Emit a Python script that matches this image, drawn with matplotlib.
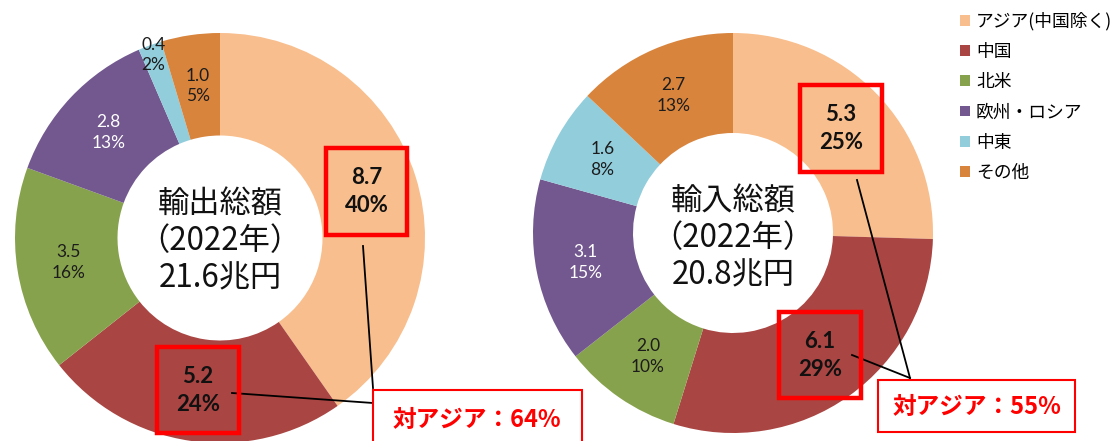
import matplotlib

matplotlib.use("Agg")

import matplotlib.pyplot as plt
import numpy as np
from matplotlib.patches import Patch, Rectangle

plt.rcParams["font.family"] = ["Noto Sans CJK JP", "DejaVu Sans"]

regions = ["アジア(中国除く)", "中国", "北米", "欧州・ロシア", "中東", "その他"]
colors = ["#F8BE8D", "#A94542", "#87A24C", "#72588F", "#92CDDC", "#D8843D"]

export_values = [8.7, 5.2, 3.5, 2.8, 0.4, 1.0]
export_pct = [40, 24, 16, 13, 2, 5]
export_total = "輸出総額\n（2022年）\n21.6兆円"
export_asia = "対アジア：64%"

import_values = [5.3, 6.1, 2.0, 3.1, 1.6, 2.7]
import_pct = [25, 29, 10, 15, 8, 13]
import_total = "輸入総額\n（2022年）\n20.8兆円"
import_asia = "対アジア：55%"

NUM_FONT = ["Lato", "DejaVu Sans"]
WHITE_TEXT = {3}
HIGHLIGHT = {0, 1}


def draw_donut(ax, values, pct, center, radius, label_r):
    wedges, _ = ax.pie(values, colors=colors, startangle=90, counterclock=False,
                       center=center, radius=radius,
                       wedgeprops=dict(width=radius * 0.5, linewidth=0))
    for i, w in enumerate(wedges):
        ang = np.deg2rad((w.theta1 + w.theta2) / 2)
        r = radius * label_r[i]
        x = center[0] + r * np.cos(ang)
        y = center[1] + r * np.sin(ang)
        txt = f"{values[i]:.1f}\n{pct[i]}%"
        if i in HIGHLIGHT:
            ax.text(x, y, txt, ha="center", va="center", fontsize=16, fontweight="bold",
                    family=NUM_FONT, color="#111111", linespacing=1.4, zorder=5,
                    bbox=dict(boxstyle="square,pad=0.85", fc="none", ec="#FF0000", lw=3.2))
        else:
            col = "white" if i in WHITE_TEXT else "#1c1c1c"
            ax.text(x, y, txt, ha="center", va="center", fontsize=12.5,
                    family=NUM_FONT, color=col, linespacing=1.35, zorder=5)


fig = plt.figure(figsize=(11.19, 4.41), dpi=100)
ax = fig.add_axes([0, 0, 1, 1])

draw_donut(ax, export_values, export_pct, (220, 203), 205, [0.75, 0.75, 0.75, 0.75, 0.95, 0.75])
draw_donut(ax, import_values, import_pct, (733, 208), 200, [0.75] * 6)

ax.text(220, 200, export_total, ha="center", va="center", fontsize=22.5, linespacing=1.2, color="#111111")
ax.text(733, 203, import_total, ha="center", va="center", fontsize=22.5, linespacing=1.2, color="#111111")

# connector lines to the callouts
ax.plot([363, 373], [195, 53], color="black", lw=1.3, zorder=4)
ax.plot([232, 373], [48, 38], color="black", lw=1.3, zorder=4)
ax.plot([857, 910], [261, 63], color="black", lw=1.3, zorder=4)
ax.plot([852, 910], [86, 63], color="black", lw=1.3, zorder=4)

ax.add_patch(Rectangle((373, -10), 209, 61, fc="white", ec="#FF0000", lw=1.5, zorder=6))
ax.add_patch(Rectangle((878, 9), 197, 52, fc="white", ec="#FF0000", lw=1.5, zorder=6))
ax.text(477, 21, export_asia, ha="center", va="center", fontsize=17, fontweight="bold",
        color="#FF0000", zorder=7)
ax.text(977, 34, import_asia, ha="center", va="center", fontsize=17, fontweight="bold",
        color="#FF0000", zorder=7)

handles = [Patch(facecolor=c, edgecolor="none") for c in colors]
fig.legend(handles, regions, loc="upper left", bbox_to_anchor=(960 / 1119, 1 - 12 / 441),
           frameon=False, fontsize=12.8, handlelength=0.55, handleheight=0.55,
           handletextpad=0.35, labelspacing=0.69, borderaxespad=0, borderpad=0)

ax.set_xlim(0, 1119)
ax.set_ylim(0, 441)
ax.set_aspect("auto")
ax.axis("off")

fig.savefig("out.png", dpi=100)
